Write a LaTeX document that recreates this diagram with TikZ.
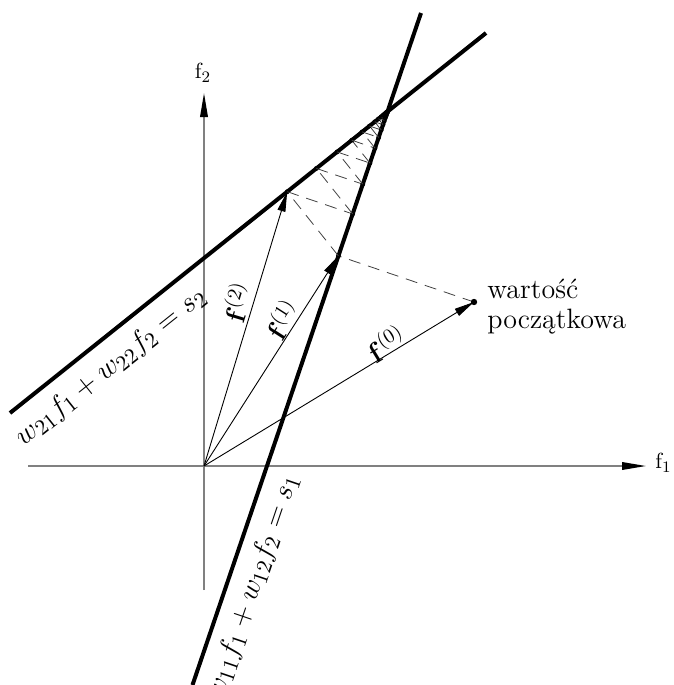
\documentclass[tikz,border=0pt]{standalone}
\usetikzlibrary{arrows.meta,calc}
\begin{document}
\begin{tikzpicture}[x=0.5pt,y=-0.5pt,
  axisline/.style={draw=gray,line width=0.75pt},
  axistip/.style={-{Triangle[length=12pt,width=3.8pt,black]}},
  bigline/.style={line width=2pt,black},
  vec/.style={line width=0.45pt,black,-{Triangle[length=10pt,width=4pt]}},
  dashline/.style={draw=black!75,line width=0.4pt,dash pattern=on 6pt off 4pt},
  lbl/.style={inner sep=0pt,font=\fontsize{14}{16}\selectfont},
  eqlbl/.style={inner sep=0pt,font=\fontsize{15.5}{18}\selectfont},
  txt/.style={inner sep=0pt,align=left,font=\fontsize{14}{15}\selectfont},
]
\useasboundingbox (0,0) rectangle (674,685);
% axes
\coordinate (O) at (204,466);
\coordinate (xs) at (28,466);
\coordinate (xe) at (646,466);
\coordinate (ys) at (204,590);
\coordinate (ye) at (204,93);
\draw[axisline,axistip] (xs) -- (xe);
\draw[axisline,axistip] (ys) -- (ye);
\node[lbl,font=\fontsize{11}{13}\selectfont,anchor=west] (f1lab) at (655,463) {$\mathrm{f}_1$};
\node[lbl,font=\fontsize{11}{13}\selectfont] (f2lab) at (203,73) {$\mathrm{f}_2$};
% constraint lines
\coordinate (A1) at (421,13);
\coordinate (B1) at (192.5,685);
\coordinate (A2) at (486,33);
\coordinate (B2) at (10,413);
\draw[bigline] (A1) -- (B1);
\draw[bigline] (A2) -- (B2);
% start point
\coordinate (p0) at (474,302);
% iterations
\foreach \i [remember=\i as \j (initially 0)] in {1,...,36}{
  \ifodd\i
    \coordinate (p\i) at ($(A1)!(p\j)!(B1)$);
  \else
    \coordinate (p\i) at ($(A2)!(p\j)!(B2)$);
  \fi
  \draw[dashline] (p\j) -- (p\i);
  \fill (p\i) circle (1.2pt);
}
\fill (p0) circle (1.6pt);
% vectors
\draw[vec] (O) -- (p0);
\draw[vec] (O) -- (p1);
\draw[vec] (O) -- (p2);
\node[lbl,rotate=31.3] (l0) at (386,343) {$\mathbf{f}^{(0)}$};
\node[lbl,rotate=57.3] (l1) at (282,319) {$\mathbf{f}^{(1)}$};
\node[lbl,rotate=73.1] (l2) at (237,302) {$\mathbf{f}^{(2)}$};
% equations
\node[eqlbl,rotate=38.6] (eq2) at (111,367) {$w_{21}f_1+w_{22}f_2=s_2$};
\node[eqlbl,rotate=71.2] (eq1) at (253,587) {$w_{11}f_1+w_{12}f_2=s_1$};
% start label
\node[txt,anchor=west] (start) at (487,307) {wartość\\początkowa};
\end{tikzpicture}
\end{document}
